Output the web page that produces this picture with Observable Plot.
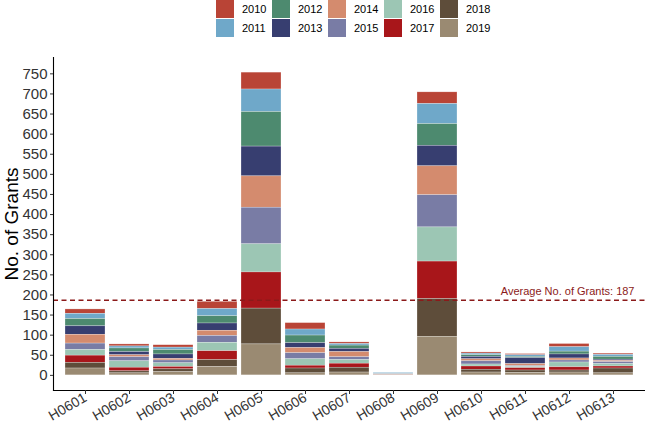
<!DOCTYPE html>
<html>
<head>
<meta charset="utf-8">
<script src="https://cdn.jsdelivr.net/npm/d3@7"></script>
<script src="https://cdn.jsdelivr.net/npm/@observablehq/plot@0.6"></script>
<style>
  body { margin: 0; background: #fff; font-family: "Liberation Sans", Arial, sans-serif; }
  #legend { height: 40px; position: relative; }
  .item { position: absolute; display: flex; align-items: center; font-size: 11px; color: #000; }
  .sw { width: 18px; height: 18px; margin-right: 8px; }
</style>
</head>
<body>
<div id="legend"></div>
<div id="chart"></div>
<script>
const codes = ["H0601","H0602","H0603","H0604","H0605","H0606","H0607","H0608","H0609","H0610","H0611","H0612","H0613"];
const years = ["2010","2011","2012","2013","2014","2015","2016","2017","2018","2019"];
const colors = ["#b94436","#6fa8c9","#4d8a6f","#373e70","#d48b6e","#797ca5","#9cc6b4","#a8161a","#5e4d3a","#9a8a72"];

const y2010 = [11, 5, 6, 18, 42, 16, 4, 0, 29, 3, 3, 8, 3];
const y2011 = [13, 5, 6, 18, 56, 15, 4, 2, 50, 4, 4, 11, 5];
const y2012 = [18, 9, 11, 18, 86, 19, 8, 1, 54, 4, 3, 7, 7];
const y2013 = [21, 8, 11, 18, 74, 12, 8, 0, 51, 6, 15, 10, 3];
const y2014 = [22, 5, 4, 13, 78, 13, 13, 0, 72, 5, 5, 5, 3];
const y2015 = [16, 10, 7, 17, 91, 15, 7, 1, 80, 8, 2, 5, 5];
const y2016 = [14, 16, 9, 21, 70, 16, 9, 0, 85, 5, 3, 12, 6];
const y2017 = [18, 9, 6, 22, 90, 7, 10, 1, 93, 8, 6, 8, 5];
const y2018 = [14, 5, 7, 17, 89, 12, 12, 0, 94, 7, 6, 5, 12];
const y2019 = [17, 5, 8, 21, 77, 5, 7, 1, 96, 7, 6, 7, 5];
const series = [y2010, y2011, y2012, y2013, y2014, y2015, y2016, y2017, y2018, y2019];

const avgGrants = 187;
const yTicks = d3.range(0, 751, 50);
const yDomain = [-37.65, 790.65];

const data = [];
years.forEach((yr, i) => codes.forEach((c, j) => data.push({code: c, year: yr, value: series[i][j]})));

// legend
const legend = document.getElementById("legend");
years.forEach((yr, i) => {
  const col = Math.floor(i / 2), row = i % 2;
  const el = document.createElement("div");
  el.className = "item";
  el.style.left = (216 + col * 56) + "px";
  el.style.top = (0 + row * 19) + "px";
  el.innerHTML = `<div class="sw" style="background:${colors[i]}"></div><span>${yr}</span>`;
  legend.appendChild(el);
});

const chart = Plot.plot({
  width: 645,
  height: 388,
  marginLeft: 53,
  marginRight: 0,
  marginTop: 17,
  marginBottom: 38,
  style: {fontFamily: "Liberation Sans, Arial, sans-serif", background: "#fff"},
  x: {domain: codes, paddingInner: 0.1, paddingOuter: 0.15},
  y: {domain: yDomain},
  color: {domain: years, range: colors},
  marks: [
    Plot.barY(data, {x: "code", y: "value", fill: "year", order: [...years].reverse(), stroke: "white", strokeWidth: 0.5, strokeOpacity: 0.5, inset: 0}),
    Plot.ruleY([avgGrants], {stroke: "#8b1a1a", strokeWidth: 1.5, strokeDasharray: "5,3.5"}),
    Plot.text([avgGrants], {y: d => d, frameAnchor: "right", text: d => `Average No. of Grants: ${d}`, textAnchor: "end", dx: -11, dy: -9, fill: "#8b1a1a", fontSize: 11}),
    Plot.frame({anchor: "left", stroke: "#000", strokeWidth: 1.1}),
    Plot.frame({anchor: "bottom", stroke: "#000", strokeWidth: 1.1}),
    Plot.axisY({ticks: yTicks, tickSize: 3, tickPadding: 3, fontSize: 15, color: "#333", label: null}),
    Plot.axisY({ticks: [], tickSize: 0, fontSize: 19, color: "#000", label: "No. of Grants", labelAnchor: "center", labelArrow: "none", labelOffset: 49}),
    Plot.axisX({tickSize: 4, tickRotate: -30, fontSize: 14, color: "#333", label: null, tickPadding: 2})
  ]
});
document.getElementById("chart").appendChild(chart);
</script>
</body>
</html>
